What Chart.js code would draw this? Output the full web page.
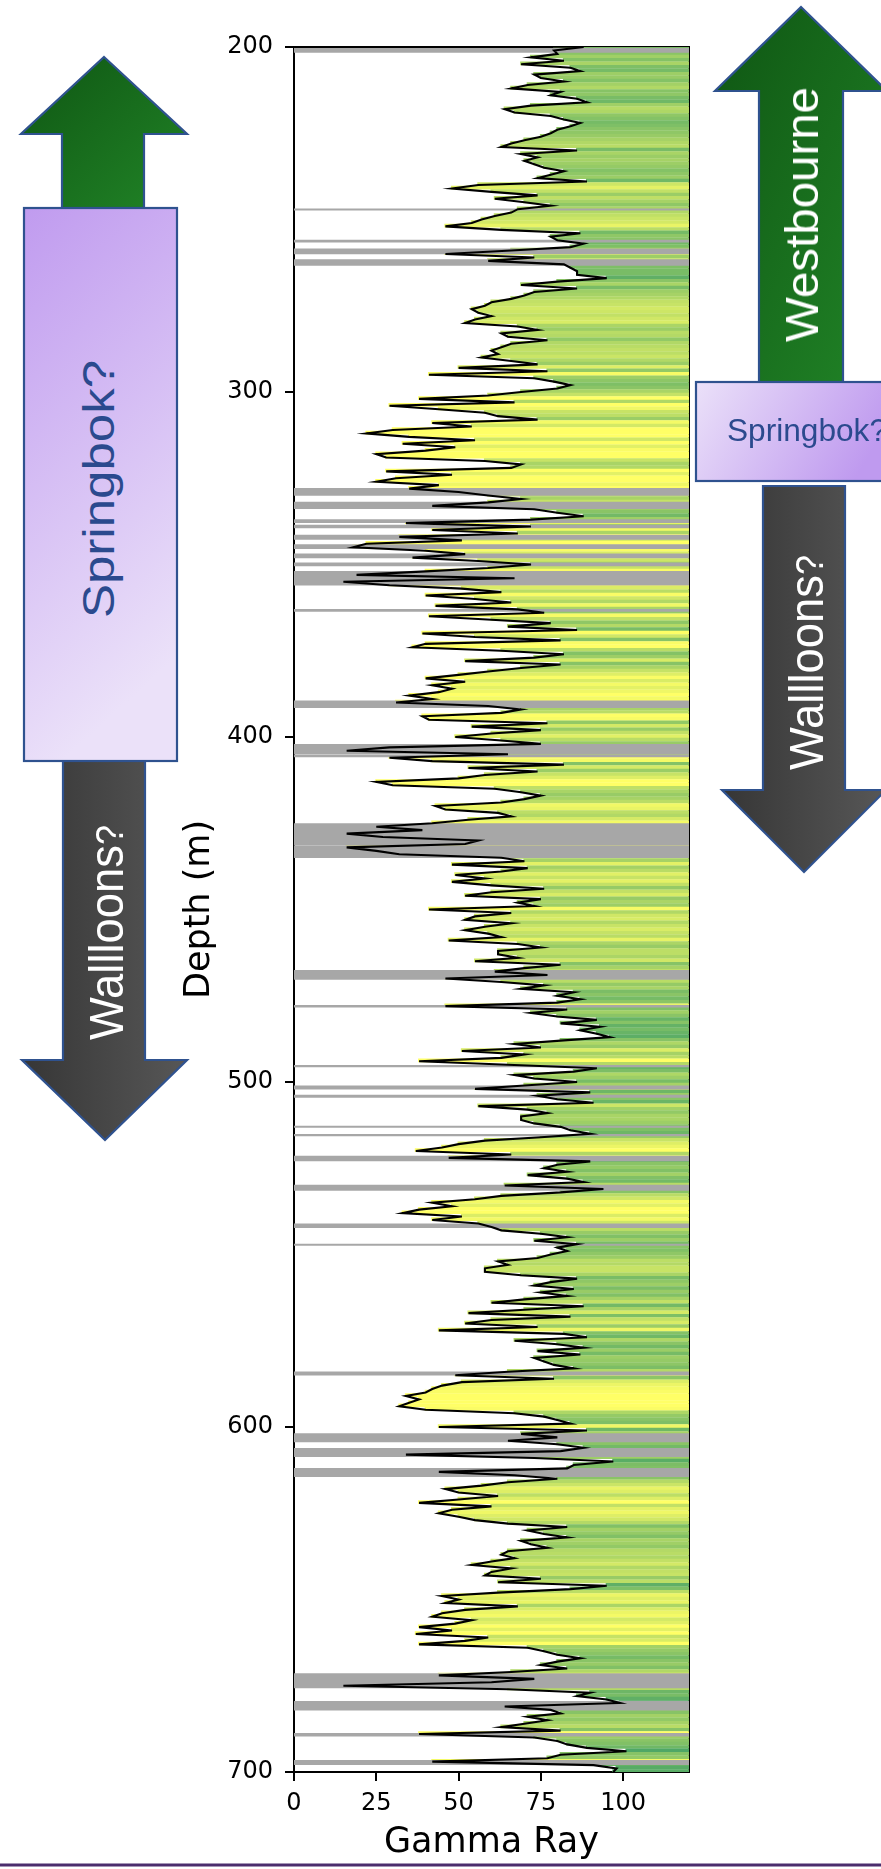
<!DOCTYPE html>
<html>
<head>
<meta charset="utf-8">
<title>Gamma Ray log</title>
<script src="https://cdn.jsdelivr.net/npm/chart.js@4.4.1/dist/chart.umd.min.js"></script>
<style>
  html, body { margin: 0; padding: 0; background: #fff; }
  #wrap { position: relative; width: 881px; height: 1869px; overflow: hidden; }
  #log { position: absolute; left: 0; top: 0; width: 881px; height: 1869px; }
  #notes { position: absolute; left: 0; top: 0; pointer-events: none; }
  .lbl { font-family: "Liberation Sans Narrow", "Liberation Sans", Arial, sans-serif; }
</style>
</head>
<body>
<div id="wrap">
  <canvas id="log" width="881" height="1869"></canvas>
  <svg id="notes" width="881" height="1869" viewBox="0 0 881 1869" xmlns="http://www.w3.org/2000/svg">
    <defs>
      <linearGradient id="gGreen" x1="0" y1="0" x2="1" y2="1">
        <stop offset="0" stop-color="#0f5613"/>
        <stop offset="1" stop-color="#218427"/>
      </linearGradient>
      <linearGradient id="gDark" x1="0" y1="0" x2="1" y2="0">
        <stop offset="0" stop-color="#363636"/>
        <stop offset="1" stop-color="#575757"/>
      </linearGradient>
      <linearGradient id="gPurpleV" x1="0" y1="0" x2="0.25" y2="1">
        <stop offset="0" stop-color="#c09bef"/>
        <stop offset="1" stop-color="#ebe1f9"/>
      </linearGradient>
      <linearGradient id="gPurpleH" x1="0" y1="0" x2="1" y2="0.3">
        <stop offset="0" stop-color="#ebe1f9"/>
        <stop offset="1" stop-color="#bf9aef"/>
      </linearGradient>
    </defs>

    <!-- left column -->
    <polygon points="104,57 187,134 144,134 144,209 62,209 62,134 21,134" fill="url(#gGreen)" stroke="#2f528f" stroke-width="2.2"/>
    <polygon points="63,760 145,760 145,1060 187,1060 105,1140 22,1060 63,1060" fill="url(#gDark)" stroke="#2f528f" stroke-width="2.2"/>
    <rect x="24" y="208" width="153" height="553" fill="url(#gPurpleV)" stroke="#2f528f" stroke-width="2.2"/>
    <text class="lbl" transform="translate(114,489) rotate(-90)" text-anchor="middle" font-size="44" fill="#2b4a8e" textLength="258" lengthAdjust="spacingAndGlyphs">Springbok?</text>
    <text class="lbl" transform="translate(123,1040) rotate(-90)" text-anchor="start" font-size="49" fill="#ffffff" textLength="215" lengthAdjust="spacingAndGlyphs">Wallloons<tspan font-size="39">?</tspan></text>

    <!-- right column -->
    <polygon points="801,7 887,91 843,91 843,383 759,383 759,91 715,91" fill="url(#gGreen)" stroke="#2f528f" stroke-width="2.2"/>
    <polygon points="763,486 845,486 845,790 886,790 804,872 722,790 763,790" fill="url(#gDark)" stroke="#2f528f" stroke-width="2.2"/>
    <rect x="696" y="382" width="200" height="99" fill="url(#gPurpleH)" stroke="#2f528f" stroke-width="2.2"/>
    <text class="lbl" transform="translate(818,214.5) rotate(-90)" text-anchor="middle" font-size="47" fill="#ffffff" textLength="255" lengthAdjust="spacingAndGlyphs">Westbourne</text>
    <text x="727" y="441" font-family="'Liberation Sans', Arial, sans-serif" font-size="32" fill="#2b4a8e" textLength="160" lengthAdjust="spacingAndGlyphs">Springbok?</text>
    <text class="lbl" transform="translate(823,770) rotate(-90)" text-anchor="start" font-size="49" fill="#ffffff" textLength="215" lengthAdjust="spacingAndGlyphs">Wallloons<tspan font-size="39">?</tspan></text>

    <line x1="0" y1="1865" x2="881" y2="1865" stroke="#4b2d6d" stroke-width="3"/>
  </svg>
</div>
<script>
// gamma ray readings, one per metre of depth
const depthTop = 200;
const depthStep = 1;
const xMax = 120;

const gr200 = [
  88, 79, 80, 72, 82, 69, 84, 87, 73, 75,
  82, 71, 66, 81, 78, 86, 89, 72, 64, 67,
  78, 82, 87, 84, 80, 78, 75, 70, 66, 63,
  86, 69, 74, 70, 73, 76, 82, 78, 74, 89,
  56, 48, 60, 74, 61, 70, 78, 68, 66, 61,
  57, 54, 46, 63, 87, 78, 80, 88, 84, 66,
  46, 73, 59, 82, 84, 86, 86, 95, 80, 69,
  86, 73, 70, 66, 60, 58, 54, 56, 60, 55,
  52, 68, 74, 63, 65, 77, 66, 63, 60, 62,
  57, 66, 74, 50, 77, 41, 73, 79, 84, 80
];
const gr300 = [
  69, 59, 38, 67, 29, 44, 58, 62, 74, 42,
  54, 30, 22, 35, 55, 33, 49, 40, 25, 28,
  58, 69, 66, 28, 48, 31, 25, 44, 35, 50,
  59, 69, 59, 42, 73, 80, 88, 72, 34, 72,
  42, 68, 32, 51, 22, 18, 40, 52, 36, 56,
  72, 59, 40, 19, 67, 15, 29, 51, 63, 40,
  55, 66, 43, 68, 76, 41, 60, 78, 65, 86,
  39, 55, 81, 40, 36, 63, 82, 73, 52, 81,
  69, 59, 50, 40, 52, 42, 48, 44, 35, 42,
  31, 59, 69, 63, 39, 41, 77, 54, 75, 60
];
const gr400 = [
  49, 63, 75, 29, 16, 65, 29, 42, 82, 53,
  74, 58, 50, 25, 30, 61, 69, 75, 70, 63,
  43, 46, 62, 66, 53, 42, 25, 39, 16, 27,
  56, 52, 16, 25, 32, 63, 70, 48, 71, 63,
  49, 58, 48, 60, 76, 60, 52, 75, 68, 73,
  41, 66, 55, 52, 66, 58, 52, 59, 63, 47,
  68, 75, 62, 62, 68, 55, 81, 70, 61, 77,
  46, 63, 76, 69, 85, 80, 87, 80, 46, 83,
  72, 80, 92, 81, 93, 87, 92, 96, 81, 67,
  75, 51, 70, 63, 38, 65, 92, 85, 67, 73
];
const gr500 = [
  86, 70, 55, 90, 74, 80, 91, 56, 71, 77,
  69, 69, 73, 81, 84, 90, 75, 58, 50, 45,
  37, 66, 47, 90, 80, 76, 83, 71, 83, 88,
  64, 94, 81, 63, 55, 42, 48, 38, 33, 51,
  42, 56, 60, 63, 75, 83, 73, 86, 80, 83,
  78, 74, 62, 65, 58, 58, 69, 86, 78, 73,
  85, 75, 83, 70, 60, 88, 70, 53, 84, 60,
  52, 74, 44, 82, 89, 67, 80, 88, 74, 87,
  73, 76, 79, 85, 65, 49, 79, 51, 45, 42,
  40, 34, 38, 35, 32, 40, 67, 76, 80, 84
];
const gr600 = [
  44, 89, 69, 80, 65, 80, 88, 81, 34, 73,
  97, 85, 83, 44, 67, 80, 65, 57, 46, 50,
  62, 50, 38, 60, 48, 44, 50, 55, 65, 83,
  71, 76, 83, 69, 72, 77, 65, 63, 67, 60,
  54, 66, 60, 58, 75, 62, 95, 84, 62, 45,
  50, 46, 68, 52, 45, 42, 54, 49, 38, 48,
  37, 59, 52, 38, 71, 76, 80, 87, 80, 75,
  83, 66, 44, 73, 60, 15, 65, 90, 86, 95,
  99, 64, 78, 81, 71, 77, 70, 63, 81, 38,
  73, 80, 83, 89, 101, 81, 77, 42, 91, 98,
  97
];

// grey bands (top / base depth in m)
const bandTop = [
  200.4, 246.9, 256.0, 258.5, 261.6,
  327.9, 331.9, 337.0, 338.6, 341.5, 344.2, 346.9, 349.5, 352.0, 363.0,
  389.5, 402.1, 405.2, 425.1, 431.5,
  467.6, 477.8, 495.2, 501.1, 503.8, 512.8, 515.2, 521.5, 529.9, 541.1,
  547.0, 584.0, 601.9, 606.2, 612.0,
  671.5, 679.5, 680.7, 688.8, 696.6
];
const bandBase = [
  201.6, 247.3, 256.6, 260.0, 263.3,
  330.0, 333.8, 337.9, 339.4, 342.7, 345.4, 348.1, 350.4, 356.0, 363.6,
  391.5, 404.9, 405.8, 431.2, 435.0,
  470.3, 478.3, 495.6, 502.1, 504.5, 513.2, 515.6, 522.9, 531.4, 542.2,
  547.4, 585.0, 604.3, 608.6, 614.4,
  675.6, 680.5, 682.1, 689.6, 697.9
];

const xTicks = [0, 25, 50, 75, 100];
const yTicks = [200, 300, 400, 500, 600, 700];

const grValues = [].concat(gr200, gr300, gr400, gr500, gr600);
const depths = grValues.map((v, i) => depthTop + i * depthStep);

// summer_r style: low GR yellow, high GR green
function grColour(v) {
  let t = 1.42 - v * 0.011;
  t = Math.max(0, Math.min(1, t));
  const r = Math.round(255 * t);
  const g = Math.round(255 * (0.5 + 0.5 * t));
  return `rgb(${r}, ${g}, 102)`;
}

const tickFont = { family: "'DejaVu Sans', sans-serif", size: 24 };
const titleFont = { family: "'DejaVu Sans', sans-serif", size: 35 };

const ctx = document.getElementById("log").getContext("2d");

new Chart(ctx, {
  type: "bar",
  data: {
    datasets: [
      {
        type: "line",
        label: "Gamma Ray",
        indexAxis: "y",
        xAxisID: "x",
        yAxisID: "y",
        data: depths.map((d, i) => ({ x: grValues[i], y: d })),
        borderColor: "#000000",
        borderWidth: 2.1,
        pointRadius: 0,
        tension: 0,
        fill: false,
        order: 1
      },
      {
        type: "bar",
        label: "bands",
        indexAxis: "x",
        xAxisID: "xg",
        yAxisID: "yg",
        data: bandTop.map((t, i) => ({ x: "band", y: [t, bandBase[i]] })),
        backgroundColor: "#a7a7a7",
        borderWidth: 0,
        barPercentage: 1,
        categoryPercentage: 1,
        grouped: false,
        order: 2
      },
      {
        type: "bar",
        label: "fill",
        indexAxis: "y",
        xAxisID: "x",
        yAxisID: "y",
        data: depths.map((d, i) => ({ y: d, x: [grValues[i], xMax] })),
        backgroundColor: grValues.map(grColour),
        borderWidth: 0,
        barPercentage: 1,
        categoryPercentage: 1,
        inflateAmount: 1,
        order: 3
      }
    ]
  },
  options: {
    indexAxis: "y",
    responsive: false,
    animation: false,
    devicePixelRatio: 1,
    layout: { padding: { left: 160, right: 192, top: 47, bottom: 0 } },
    plugins: {
      legend: { display: false },
      tooltip: { enabled: false }
    },
    scales: {
      x: {
        type: "linear",
        position: "bottom",
        min: 0,
        max: xMax,
        offset: false,
        afterBuildTicks: (scale) => { scale.ticks = xTicks.map(v => ({ value: v })); },
        ticks: { font: tickFont, color: "#000", padding: 8, maxRotation: 0 },
        grid: { display: true, drawOnChartArea: false, drawTicks: true, tickLength: 9, color: "#000", lineWidth: 2, offset: false },
        border: { display: true, color: "#000", width: 2 },
        title: { display: true, text: "Gamma Ray", font: titleFont, color: "#000", padding: { top: 0, bottom: 5 } },
        afterFit: (scale) => { scale.height = 97; }
      },
      y: {
        type: "linear",
        position: "left",
        reverse: true,
        min: 200,
        max: 700,
        offset: false,
        afterBuildTicks: (scale) => { scale.ticks = yTicks.map(v => ({ value: v })); },
        ticks: { font: tickFont, color: "#000", padding: 12 },
        grid: { display: true, drawOnChartArea: false, drawTicks: true, tickLength: 9, color: "#000", lineWidth: 2, offset: false },
        border: { display: true, color: "#000", width: 2 },
        title: { display: true, text: "Depth (m)", font: titleFont, color: "#000", padding: { top: 19, bottom: 0 } },
        afterFit: (scale) => { scale.width = 134; }
      },
      xTop: {
        type: "linear",
        position: "top",
        min: 0,
        max: xMax,
        ticks: { display: false },
        grid: { display: false },
        border: { display: true, color: "#000", width: 2 },
        afterFit: (scale) => { scale.height = 0; }
      },
      yRight: {
        type: "linear",
        position: "right",
        min: 200,
        max: 700,
        reverse: true,
        ticks: { display: false },
        grid: { display: false },
        border: { display: true, color: "#000", width: 2 },
        afterFit: (scale) => { scale.width = 0; }
      },
      xg: {
        type: "category",
        labels: ["band"],
        offset: true,
        display: false
      },
      yg: {
        type: "linear",
        min: 200,
        max: 700,
        reverse: true,
        offset: false,
        display: false
      }
    }
  }
});
</script>
</body>
</html>
